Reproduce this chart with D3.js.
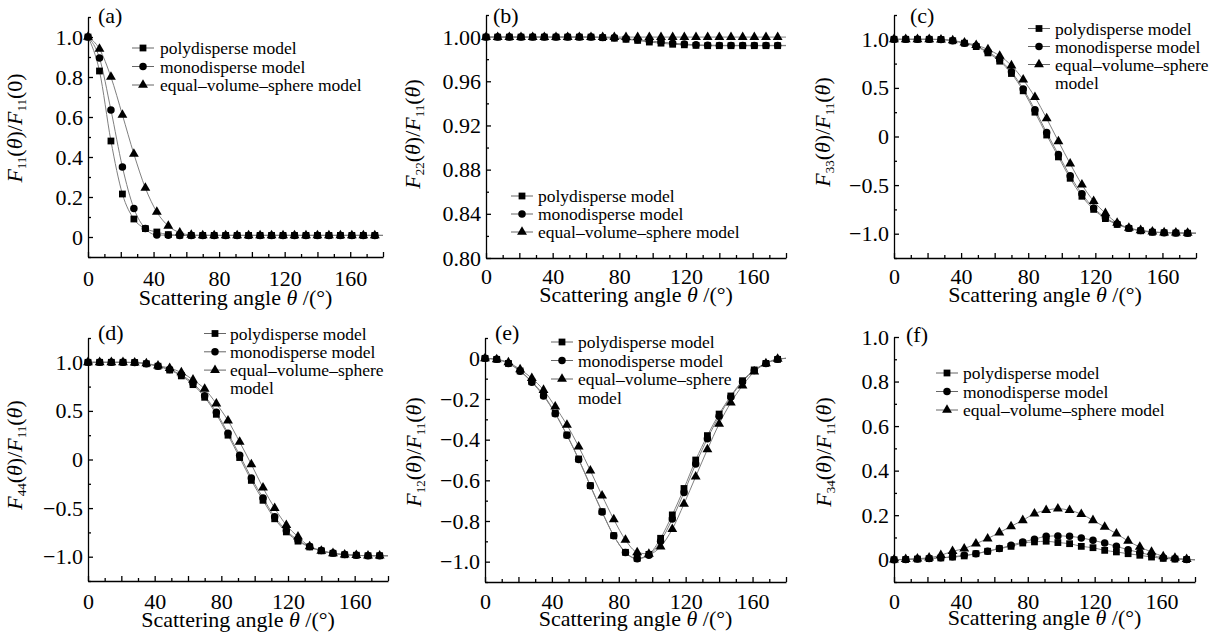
<!DOCTYPE html>
<html lang="en">
<head>
<meta charset="UTF-8">
<title>Normalized scattering matrix elements</title>
<script src="https://d3js.org/d3.v7.min.js"></script>
<style>
  body { margin: 0; background: #fff; }
  svg { display: block; font-family: 'Liberation Serif', 'Times New Roman', serif; }
  .axis path, .axis line { stroke: #000; stroke-width: 1.3; }
  .axis text { font-size: 22px; font-family: 'Liberation Serif', serif; fill: #000; }
  .curve { fill: none; stroke: #808080; stroke-width: 1; }
  .legend text { font-size: 17.5px; fill: #000; }
</style>
</head>
<body>
<svg id="chart" width="1225" height="634"></svg>
<script>
// scattering angles of the plotted markers (deg)
const angles = [0, 7, 14, 21, 28, 35, 42, 49, 56, 63, 70, 77, 84, 91, 98, 105, 112, 119, 126, 133, 140, 147, 154, 161, 168, 175];
const seriesNames = ["polydisperse model", "monodisperse model", "equal\u2013volume\u2013sphere model"];
const xTickLabels = [0, 40, 80, 120, 160];

// (a) F11/F11(0)
const polyA = [1.0, 0.83, 0.48, 0.215, 0.09, 0.042, 0.025, 0.012, 0.009, 0.008, 0.008, 0.008, 0.008, 0.008, 0.008, 0.008, 0.008, 0.008, 0.008, 0.008, 0.008, 0.008, 0.008, 0.008, 0.008, 0.008];
const monoA = [1.0, 0.895, 0.635, 0.35, 0.143, 0.042, 0.01, 0.009, 0.008, 0.008, 0.008, 0.008, 0.008, 0.008, 0.008, 0.008, 0.008, 0.008, 0.008, 0.008, 0.008, 0.008, 0.008, 0.008, 0.008, 0.008];
const evsA = [1.0, 0.94, 0.80, 0.61, 0.415, 0.245, 0.125, 0.055, 0.022, 0.01, 0.008, 0.008, 0.008, 0.008, 0.008, 0.008, 0.008, 0.008, 0.008, 0.008, 0.008, 0.008, 0.008, 0.008, 0.008, 0.008];
const endA = [0.008, 0.008, 0.008];

// (b) F22/F11
const polyB = [1, 1, 1, 1, 1, 1, 1, 1, 1, 1, 0.9995, 0.999, 0.998, 0.997, 0.9955, 0.9945, 0.9935, 0.993, 0.9925, 0.9922, 0.9922, 0.9922, 0.9922, 0.9922, 0.9922, 0.9922];
const monoB = [1, 1, 1, 1, 1, 1, 1, 1, 1, 1, 0.9997, 0.9993, 0.9985, 0.9975, 0.9965, 0.9955, 0.9945, 0.9937, 0.993, 0.9927, 0.9925, 0.9925, 0.9925, 0.9925, 0.9925, 0.9925];
const evsB = [1, 1, 1, 1, 1, 1, 1, 1, 1, 1, 1, 1, 1, 1, 1, 1, 1, 1, 1, 1, 1, 1, 1, 1, 1, 1];
const endB = [0.9922, 0.9925, 1.0];

// (c) F33/F11
const polyC = [1.0, 1.0, 1.0, 1.0, 0.998, 0.985, 0.96, 0.925, 0.86, 0.775, 0.648, 0.47, 0.25, 0.015, -0.21, -0.43, -0.615, -0.75, -0.845, -0.905, -0.945, -0.97, -0.985, -0.99, -0.993, -0.995];
const monoC = [1.0, 1.0, 1.0, 1.0, 0.998, 0.985, 0.96, 0.93, 0.87, 0.79, 0.665, 0.49, 0.275, 0.04, -0.185, -0.405, -0.59, -0.735, -0.835, -0.9, -0.943, -0.968, -0.983, -0.99, -0.993, -0.995];
const evsC = [1.0, 1.0, 1.0, 1.0, 0.997, 0.988, 0.965, 0.94, 0.895, 0.83, 0.73, 0.585, 0.405, 0.185, -0.05, -0.28, -0.495, -0.665, -0.79, -0.89, -0.94, -0.965, -0.98, -0.988, -0.99, -0.993];
const endC = [-0.995, -0.995, -0.995];

// (d) F44/F11
const polyD = [1.0, 1.0, 1.0, 1.0, 0.998, 0.985, 0.96, 0.92, 0.86, 0.77, 0.64, 0.465, 0.25, 0.02, -0.215, -0.42, -0.61, -0.745, -0.84, -0.9, -0.94, -0.965, -0.98, -0.985, -0.99, -0.99];
const monoD = [1.0, 1.0, 1.0, 1.0, 0.998, 0.985, 0.96, 0.925, 0.87, 0.785, 0.655, 0.485, 0.27, 0.045, -0.19, -0.395, -0.59, -0.73, -0.83, -0.895, -0.937, -0.963, -0.978, -0.985, -0.99, -0.99];
const evsD = [1.0, 1.0, 1.0, 1.0, 0.997, 0.988, 0.965, 0.94, 0.895, 0.82, 0.725, 0.575, 0.4, 0.18, -0.05, -0.29, -0.5, -0.675, -0.795, -0.895, -0.94, -0.965, -0.98, -0.985, -0.99, -0.99];
const endD = [-0.99, -0.99, -0.99];

// (e) F12/F11
const polyE = [0, -0.005, -0.025, -0.062, -0.115, -0.18, -0.27, -0.377, -0.495, -0.626, -0.754, -0.872, -0.954, -0.984, -0.964, -0.885, -0.77, -0.64, -0.5, -0.38, -0.274, -0.185, -0.11, -0.057, -0.025, -0.005];
const monoE = [0, -0.005, -0.025, -0.063, -0.118, -0.185, -0.272, -0.378, -0.497, -0.627, -0.756, -0.873, -0.955, -0.986, -0.968, -0.9, -0.79, -0.66, -0.52, -0.395, -0.285, -0.19, -0.115, -0.06, -0.025, -0.005];
const evsE = [0, -0.005, -0.02, -0.055, -0.098, -0.156, -0.238, -0.328, -0.434, -0.552, -0.675, -0.792, -0.893, -0.954, -0.962, -0.926, -0.84, -0.716, -0.582, -0.448, -0.323, -0.218, -0.134, -0.066, -0.025, -0.003];
const endE = [0, 0, 0];

// (f) F34/F11
const polyF = [0, 0.001, 0.003, 0.005, 0.008, 0.012, 0.017, 0.027, 0.038, 0.05, 0.06, 0.075, 0.08, 0.083, 0.077, 0.072, 0.06, 0.054, 0.042, 0.035, 0.027, 0.02, 0.012, 0.006, 0.003, 0.001];
const monoF = [0, 0.001, 0.003, 0.006, 0.009, 0.013, 0.02, 0.027, 0.038, 0.05, 0.065, 0.08, 0.092, 0.105, 0.107, 0.105, 0.098, 0.087, 0.075, 0.06, 0.045, 0.032, 0.02, 0.009, 0.004, 0.001];
const evsF = [0, 0.002, 0.005, 0.009, 0.02, 0.038, 0.05, 0.072, 0.095, 0.122, 0.15, 0.177, 0.207, 0.222, 0.229, 0.222, 0.205, 0.177, 0.147, 0.117, 0.084, 0.057, 0.035, 0.015, 0.008, 0.002];
const endF = [0, 0, 0];

// panel layout
const panels = [
  { tag: "(a)", series: [polyA, monoA, evsA], ends: endA, yDomain: [-0.1, 1.1], minor: 0.1, major: 0.2, fmt: ".1f",
    num: "11", arg: "0", x0: 88, x1: 383, yTop: 17, yBot: 257, labGap: 13, titleY: 305, yLabX: 22, yLabY: 128,
    tagX: 98, tagY: 23, leg: { mx: 143, y: 48, dy: 18.5, tx: 160, wrap: false } },
  { tag: "(b)", series: [polyB, monoB, evsB], ends: endB, yDomain: [0.80, 1.02], minor: 0.02, major: 0.04, fmt: ".2f",
    num: "22", arg: "\u03b8", x0: 486, x1: 786, yTop: 15, yBot: 258, labGap: 10, titleY: 302, yLabX: 420, yLabY: 134,
    tagX: 493, tagY: 23, leg: { mx: 522, y: 196, dy: 18, tx: 538, wrap: false } },
  { tag: "(c)", series: [polyC, monoC, evsC], ends: endC, yDomain: [-1.25, 1.25], minor: 0.25, major: 0.5, fmt: ".1f",
    num: "33", arg: "\u03b8", x0: 894, x1: 1196, yTop: 15, yBot: 258, labGap: 10, titleY: 302, yLabX: 830, yLabY: 132,
    tagX: 910, tagY: 23, leg: { mx: 1039, y: 28.5, dy: 18, tx: 1055, wrap: true } },
  { tag: "(d)", series: [polyD, monoD, evsD], ends: endD, yDomain: [-1.25, 1.25], minor: 0.25, major: 0.5, fmt: ".1f",
    num: "44", arg: "\u03b8", x0: 88, x1: 388, yTop: 338, yBot: 581, labGap: 12, titleY: 627, yLabX: 22, yLabY: 455,
    tagX: 98, tagY: 340, leg: { mx: 215, y: 333.5, dy: 18.3, tx: 230, wrap: true } },
  { tag: "(e)", series: [polyE, monoE, evsE], ends: endE, yDomain: [-1.1, 0.1], minor: 0.1, major: 0.2, fmt: ".1f",
    num: "12", arg: "\u03b8", x0: 485, x1: 786, yTop: 338, yBot: 582, labGap: 11, titleY: 626, yLabX: 421, yLabY: 452,
    tagX: 495, tagY: 340, leg: { mx: 562, y: 342, dy: 18.5, tx: 578, wrap: true } },
  { tag: "(f)", series: [polyF, monoF, evsF], ends: endF, yDomain: [-0.1, 1.0], minor: 0.1, major: 0.2, fmt: ".1f",
    num: "34", arg: "\u03b8", x0: 894, x1: 1195, yTop: 337, yBot: 582, labGap: 11, titleY: 625, yLabX: 831, yLabY: 452,
    tagX: 906, tagY: 342, leg: { mx: 947, y: 373, dy: 18.5, tx: 963, wrap: false } }
];

const symbols = [
  d3.symbol().type(d3.symbolSquare).size(46),
  d3.symbol().type(d3.symbolCircle).size(44),
  d3.symbol().type(d3.symbolTriangle).size(42)
];

const svg = d3.select("#chart");

function isMultiple(v, step) {
  return Math.abs(Math.round(v / step) * step - v) < 1e-9;
}

panels.forEach(p => {
  const x = d3.scaleLinear().domain([0, 180]).range([p.x0, p.x1]);
  const y = d3.scaleLinear().domain(p.yDomain).range([p.yBot, p.yTop]);
  const fmt = d3.format(p.fmt);

  // x axis: ticks every 10, longer every 20, labels every 40
  const xAxis = svg.append("g")
    .attr("class", "axis")
    .attr("transform", `translate(0,${p.yBot})`)
    .call(d3.axisBottom(x)
      .tickValues(d3.range(0, 181, 10))
      .tickSizeInner(-3).tickSizeOuter(0)
      .tickPadding(p.labGap)
      .tickFormat(d => xTickLabels.includes(d) ? d : ""));
  xAxis.selectAll(".tick line").filter(d => d % 20 === 0).attr("y2", -5);

  // y axis
  const nMin = Math.round((p.yDomain[1] - p.yDomain[0]) / p.minor);
  const yVals = d3.range(nMin + 1).map(i => +(p.yDomain[0] + i * p.minor).toFixed(4));
  const yAxis = svg.append("g")
    .attr("class", "axis")
    .attr("transform", `translate(${p.x0},0)`)
    .call(d3.axisLeft(y)
      .tickValues(yVals)
      .tickSizeInner(-3).tickSizeOuter(0)
      .tickPadding(5)
      .tickFormat(d => isMultiple(d, p.major) ? (Math.abs(d) < 1e-9 ? "0" : fmt(d)) : ""));
  yAxis.selectAll(".tick line").filter(d => isMultiple(d, p.major)).attr("x2", 5);

  // curves
  const line = d3.line()
    .x(d => x(d[0]))
    .y(d => y(d[1]))
    .curve(d3.curveMonotoneX);

  p.series.forEach((vals, si) => {
    const pts = angles.map((a, i) => [a, vals[i]]).concat([[180, p.ends[si]]]);
    svg.append("path")
      .attr("class", "curve")
      .attr("d", line(pts));
  });

  p.series.forEach((vals, si) => {
    svg.append("g").selectAll("path")
      .data(angles.map((a, i) => [a, vals[i]]))
      .enter().append("path")
      .attr("d", symbols[si])
      .attr("transform", d => `translate(${x(d[0])},${y(d[1])})`)
      .attr("fill", "#000");
  });

  // x title
  const xt = svg.append("text")
    .attr("x", (p.x0 + p.x1) / 2)
    .attr("y", p.titleY)
    .attr("text-anchor", "middle")
    .style("font-size", "22px");
  xt.append("tspan").text("Scattering angle ");
  xt.append("tspan").style("font-style", "italic").text("\u03b8");
  xt.append("tspan").text(" /(\u00b0)");

  // y title
  const yt = svg.append("text")
    .attr("transform", `translate(${p.yLabX},${p.yLabY}) rotate(-90)`)
    .attr("text-anchor", "middle")
    .style("font-size", "22px");
  yt.append("tspan").style("font-style", "italic").text("F");
  yt.append("tspan").attr("dy", 4).style("font-size", "13px").text(p.num);
  yt.append("tspan").attr("dy", -4).text("(");
  yt.append("tspan").style("font-style", "italic").text("\u03b8");
  yt.append("tspan").text(")/");
  yt.append("tspan").style("font-style", "italic").text("F");
  yt.append("tspan").attr("dy", 4).style("font-size", "13px").text("11");
  yt.append("tspan").attr("dy", -4).text("(");
  yt.append("tspan").style("font-style", p.arg === "0" ? "normal" : "italic").text(p.arg);
  yt.append("tspan").text(")");

  // panel tag
  svg.append("text")
    .attr("x", p.tagX)
    .attr("y", p.tagY)
    .style("font-size", "22px")
    .text(p.tag);

  // legend
  const lg = svg.append("g").attr("class", "legend");
  seriesNames.forEach((name, si) => {
    const ry = p.leg.y + si * p.leg.dy;
    lg.append("line")
      .attr("x1", p.leg.mx - 11).attr("x2", p.leg.mx + 11)
      .attr("y1", ry).attr("y2", ry)
      .attr("stroke", "#666").attr("stroke-width", 1);
    lg.append("path")
      .attr("d", symbols[si])
      .attr("transform", `translate(${p.leg.mx},${ry})`)
      .attr("fill", "#000");
    if (p.leg.wrap && si === 2) {
      lg.append("text").attr("x", p.leg.tx).attr("y", ry + 6).text("equal\u2013volume\u2013sphere");
      lg.append("text").attr("x", p.leg.tx).attr("y", ry + p.leg.dy + 6).text("model");
    } else {
      lg.append("text").attr("x", p.leg.tx).attr("y", ry + 6).text(name);
    }
  });
});
</script>
</body>
</html>
